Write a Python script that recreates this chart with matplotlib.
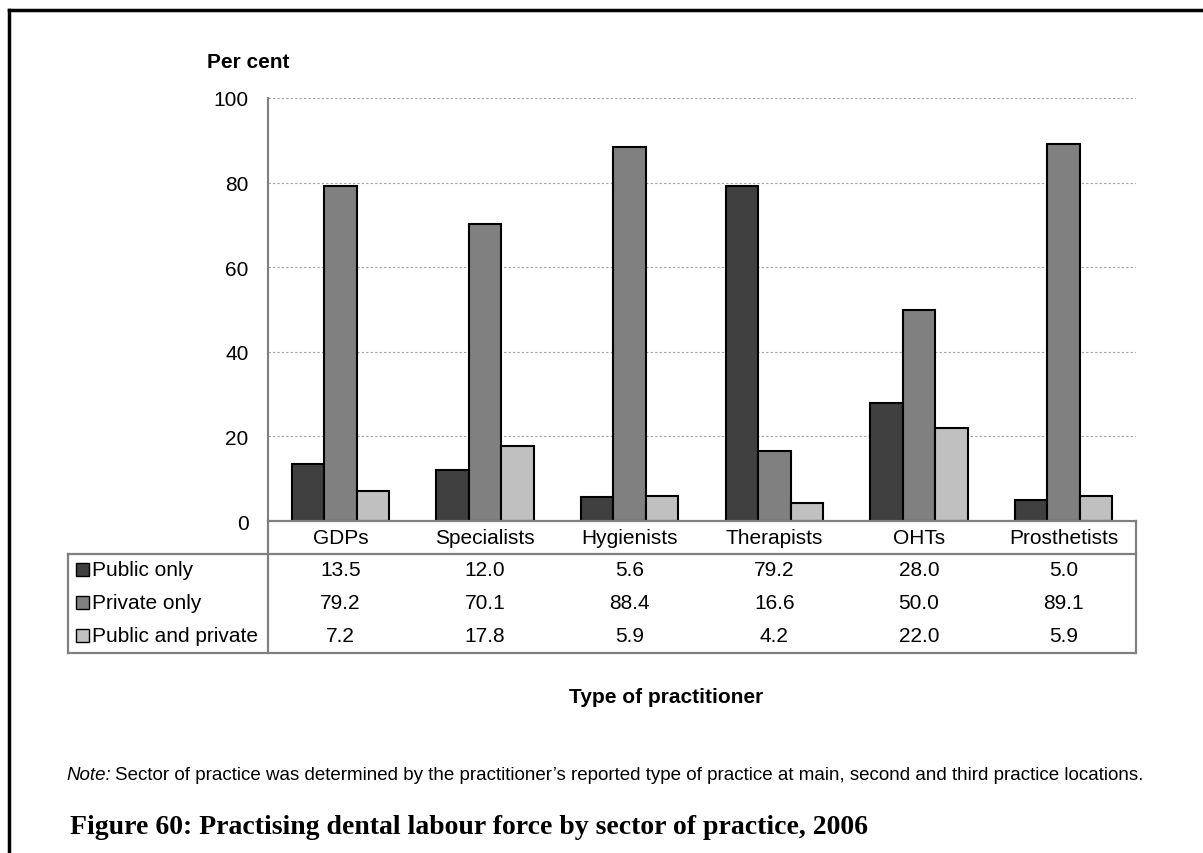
import matplotlib
matplotlib.use("Agg")
import matplotlib.pyplot as plt
import numpy as np
from matplotlib.lines import Line2D
from matplotlib.patches import Rectangle
from matplotlib.transforms import blended_transform_factory

plt.rcParams['font.family'] = ['Liberation Sans', 'DejaVu Sans']

# Data
categories = ['GDPs', 'Specialists', 'Hygienists', 'Therapists', 'OHTs', 'Prosthetists']
series_names = ['Public only', 'Private only', 'Public and private']
public_only = [13.5, 12.0, 5.6, 79.2, 28.0, 5.0]
private_only = [79.2, 70.1, 88.4, 16.6, 50.0, 89.1]
public_private = [7.2, 17.8, 5.9, 4.2, 22.0, 5.9]
series_values = [public_only, private_only, public_private]
colors = ['#404040', '#808080', '#c0c0c0']
yticks = [0, 20, 40, 60, 80, 100]

W, H = 1203, 854
fig = plt.figure(figsize=(W / 100, H / 100), dpi=100)
fs = 15


def fx(px):
    return px / W


def fy(py):
    return 1 - py / H


# plot area in pixels
left, right, top, bottom = 268, 1136, 99, 522
ax = fig.add_axes([fx(left), fy(bottom), fx(right - left), fy(top) - fy(bottom)])

x = np.arange(len(categories))
bw = 0.225
for i, (vals, c) in enumerate(zip(series_values, colors)):
    ax.bar(x + (i - 1) * bw, vals, bw, color=c, edgecolor='black', linewidth=1.5, zorder=3)

ax.set_xlim(-0.5, len(categories) - 0.5)
ax.set_ylim(0, 100)
ax.set_yticks(yticks)
ax.tick_params(axis='y', length=0, labelsize=fs, pad=14)
ax.set_xticks([])
for s in ['top', 'right', 'bottom']:
    ax.spines[s].set_visible(False)
ax.spines['left'].set_color('#808080')
ax.spines['left'].set_linewidth(1.5)
ax.yaxis.grid(True, linestyle=(0, (2, 2)), color='#a0a0a0', linewidth=0.8)
ax.set_axisbelow(True)
fig.text(fx(248), fy(62), 'Per cent', ha='center', va='center',
         fontsize=fs, fontweight='bold')

# table lines (pixel coordinates)
gc = '#808080'
tlw = 1.6
hdr_bot, tbl_bot, tbl_left = 555, 654, 68
segs = [
    ((left, right), (bottom, bottom)),
    ((right, right), (bottom, tbl_bot)),
    ((tbl_left, right), (hdr_bot, hdr_bot)),
    ((tbl_left, right), (tbl_bot, tbl_bot)),
    ((tbl_left, tbl_left), (hdr_bot, tbl_bot)),
    ((left, left), (bottom, tbl_bot)),
]
for xs, ys in segs:
    fig.add_artist(Line2D([fx(xs[0]), fx(xs[1])], [fy(ys[0]), fy(ys[1])],
                          transform=fig.transFigure, color=gc, lw=tlw))

tr = blended_transform_factory(ax.transData, fig.transFigure)
for j, cat in enumerate(categories):
    fig.text(x[j], fy(539), cat, transform=tr, ha='center', va='center', fontsize=fs)

row_y = [571, 604, 637]
for i, (name, vals, c) in enumerate(zip(series_names, series_values, colors)):
    y = row_y[i]
    fig.add_artist(Rectangle((fx(76), fy(y + 6)), fx(13), fy(y - 7) - fy(y + 6),
                             transform=fig.transFigure, facecolor=c,
                             edgecolor='black', lw=1))
    fig.text(fx(92), fy(y), name, ha='left', va='center', fontsize=fs)
    for j, v in enumerate(vals):
        fig.text(x[j], fy(y), f'{v:.1f}', transform=tr, ha='center', va='center',
                 fontsize=fs)

fig.text(fx(666), fy(698), 'Type of practitioner', ha='center', va='center',
         fontsize=fs, fontweight='bold')

note = fig.text(fx(66), fy(776), 'Note:', ha='left', va='center', fontsize=13.5, style='italic')
fig.canvas.draw()
bb = note.get_window_extent()
fig.text(bb.x1 / W + fx(4), fy(776), 'Sector of practice was determined by the practitioner\u2019s reported '
         'type of practice at main, second and third practice locations.',
         ha='left', va='center', fontsize=13.5)

fig.text(fx(70), fy(828), 'Figure 60: Practising dental labour force by sector of practice, 2006',
         ha='left', va='center', fontsize=20, fontweight='bold', family='Liberation Serif')

# page border (top and left)
fig.add_artist(Line2D([fx(9), 1], [fy(11), fy(11)], transform=fig.transFigure,
                      color='black', lw=2.5))
fig.add_artist(Line2D([fx(9), fx(9)], [fy(11), 0], transform=fig.transFigure,
                      color='black', lw=2.5))

fig.savefig('out.png', dpi=100)
